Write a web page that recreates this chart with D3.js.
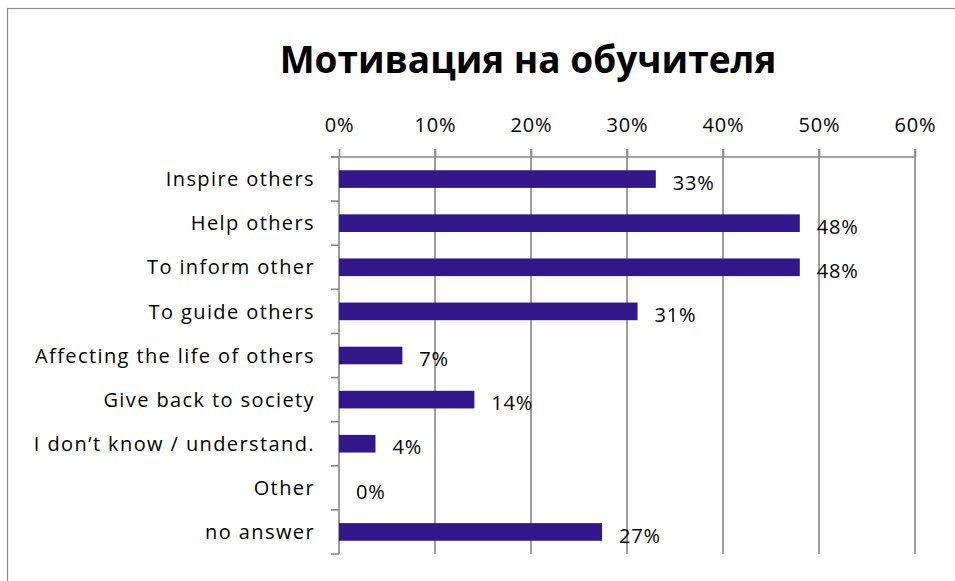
<!DOCTYPE html>
<meta charset="utf-8">
<script src="https://d3js.org/d3.v7.min.js"></script>
<style>
  body { margin: 0; background: #fff; }
  text { font-family: "Open Sans", sans-serif; fill: #000; }
</style>
<div id="chart"></div>
<script>

// data
var categories = ["Inspire others", "Help others", "To inform other", "To guide others",
  "Affecting the life of others", "Give back to society", "I don\u2019t know / understand.",
  "Other", "no answer"];
var values = [33.0, 48.0, 48.0, 31.1, 6.6, 14.1, 3.8, 0, 27.4];
var labels = ["33%", "48%", "48%", "31%", "7%", "14%", "4%", "0%", "27%"];
var xTicks = [0, 10, 20, 30, 40, 50, 60];

var W = 955, H = 581;
var margin = {top: 157, right: 40, bottom: 27, left: 339},
  width = 915 - margin.left,
  height = 554 - margin.top;

var svg = d3.select("#chart").append("svg")
  .attr("width", W)
  .attr("height", H);

// outer chart border (cut at right / bottom)
svg.append("rect")
  .attr("x", 7.5).attr("y", 8.5)
  .attr("width", 1000).attr("height", 700)
  .attr("fill", "none")
  .attr("stroke", "#8c8c8c")
  .attr("stroke-width", 1.2);

svg.append("text")
  .attr("x", 528)
  .attr("y", 73)
  .attr("text-anchor", "middle")
  .style("font-size", "37px")
  .style("font-weight", "bold")
  .text("Мотивация на обучителя");

var g = svg.append("g")
  .attr("transform", "translate(" + margin.left + "," + margin.top + ")");

var x = d3.scaleLinear().domain([0, 60]).range([0, width]);
var y = d3.scaleBand().domain(categories).range([0, height]).paddingInner(0.6).paddingOuter(0.3);

// vertical gridlines
g.selectAll(".grid")
  .data(xTicks.slice(1))
  .enter().append("line")
    .attr("x1", function(d) { return x(d); })
    .attr("x2", function(d) { return x(d); })
    .attr("y1", -8)
    .attr("y2", height)
    .attr("stroke", "#878787")
    .attr("stroke-width", 1.6);

// top axis
var xAxis = g.append("g")
  .call(d3.axisTop(x).tickValues(xTicks).tickSize(8).tickPadding(17)
    .tickFormat(function(d) { return d + "%"; }));
xAxis.select(".domain").remove();
xAxis.selectAll("line").attr("stroke", "#878787").attr("stroke-width", 1.6);
xAxis.selectAll("text")
  .style("font-size", "20px")
  .style("letter-spacing", "0.8px")
  .attr("fill", "#000");

g.append("line")
  .attr("x1", -8).attr("x2", width)
  .attr("y1", 0).attr("y2", 0)
  .attr("stroke", "#878787").attr("stroke-width", 1.6);

// left axis with ticks between categories
g.append("line")
  .attr("x1", 0).attr("x2", 0)
  .attr("y1", 0).attr("y2", height)
  .attr("stroke", "#878787").attr("stroke-width", 1.6);

var bounds = d3.range(categories.length + 1);
g.selectAll(".ctick")
  .data(bounds)
  .enter().append("line")
    .attr("x1", -8).attr("x2", 0)
    .attr("y1", function(i) { return i * height / categories.length; })
    .attr("y2", function(i) { return i * height / categories.length; })
    .attr("stroke", "#878787").attr("stroke-width", 1.6);

g.selectAll(".clabel")
  .data(categories)
  .enter().append("text")
    .attr("x", -24)
    .attr("y", function(d) { return y(d) + y.bandwidth() / 2; })
    .attr("dy", "0.36em")
    .attr("text-anchor", "end")
    .style("font-size", "20px")
    .style("letter-spacing", "1.4px")
    .text(function(d) { return d; });

// bars
g.selectAll(".bar")
  .data(values)
  .enter().append("rect")
    .attr("x", 0)
    .attr("y", function(d, i) { return y(categories[i]); })
    .attr("width", function(d) { return x(d); })
    .attr("height", y.bandwidth())
    .attr("fill", "#311789");

// value labels
g.selectAll(".vlabel")
  .data(values)
  .enter().append("text")
    .attr("x", function(d) { return x(d) + 17; })
    .attr("y", function(d, i) { return y(categories[i]) + y.bandwidth() / 2 + 3.5; })
    .attr("dy", "0.36em")
    .style("font-size", "20px")
    .style("letter-spacing", "0.8px")
    .text(function(d, i) { return labels[i]; });

</script>
